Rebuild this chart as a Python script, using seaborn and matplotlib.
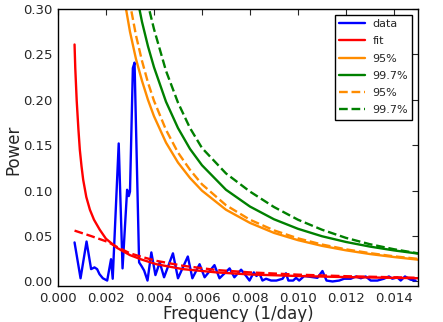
import numpy as np
import pandas as pd
import matplotlib
matplotlib.use("Agg")
import matplotlib.pyplot as plt
import seaborn as sns

# ---- data ----
data_freq = [0.00069, 0.00094, 0.00119, 0.00138, 0.00152, 0.00163, 0.00173, 0.00187,
             0.00205, 0.00221, 0.00228, 0.00253, 0.00269, 0.00288, 0.00295, 0.00300,
             0.00312, 0.00319, 0.00338, 0.00348, 0.00359, 0.00373, 0.00389, 0.00406,
             0.00424, 0.00442, 0.00479, 0.00500, 0.00541, 0.00560, 0.00590, 0.00611,
             0.00652, 0.00673, 0.00715, 0.00735, 0.00763, 0.00784, 0.00798, 0.00816,
             0.00827, 0.00839, 0.00852, 0.00867, 0.00888, 0.00910, 0.00936, 0.00950,
             0.00960, 0.00980, 0.00992, 0.01005, 0.01026, 0.01054, 0.01081, 0.01102,
             0.01119, 0.01144, 0.01172, 0.01192, 0.01220, 0.01241, 0.01262, 0.01282,
             0.01303, 0.01331, 0.01358, 0.01379, 0.01393, 0.01414, 0.01428, 0.01446,
             0.01469, 0.01490]
data_power = [0.043, 0.0035, 0.044, 0.0136, 0.0155, 0.0136, 0.008, 0.0035,
              0.001, 0.0245, 0.003, 0.152, 0.0144, 0.101, 0.094, 0.099,
              0.235, 0.241, 0.021, 0.017, 0.012, 0.001, 0.032, 0.007,
              0.021, 0.0046, 0.031, 0.0035, 0.0275, 0.0035, 0.019, 0.0046,
              0.018, 0.0035, 0.0144, 0.0046, 0.013, 0.006, 0.001, 0.010,
              0.006, 0.009, 0.001, 0.003, 0.001, 0.001, 0.003, 0.009,
              0.001, 0.001, 0.004, 0.001, 0.006, 0.005, 0.004, 0.0115,
              0.001, 0.0, 0.001, 0.003, 0.003, 0.0055, 0.0035, 0.0055,
              0.001, 0.001, 0.003, 0.0055, 0.003, 0.0045, 0.001, 0.0055,
              0.002, 0.001]

fit_freq = [0.00069, 0.00072, 0.00078, 0.00085, 0.00091, 0.00098, 0.00105, 0.00118,
            0.00133, 0.00150, 0.00174, 0.00200, 0.00246, 0.00300, 0.00350, 0.00410,
            0.00520, 0.00660, 0.00800, 0.01000, 0.01200, 0.01500]
fit_power = [0.261, 0.235, 0.199, 0.168, 0.145, 0.127, 0.112, 0.093,
             0.079, 0.068, 0.057, 0.047, 0.037, 0.029, 0.024, 0.019,
             0.0136, 0.0100, 0.0077, 0.0060, 0.0048, 0.0036]

fit2_freq = [0.00069, 0.00138, 0.00208, 0.00246, 0.00300, 0.00350, 0.00410, 0.00520,
             0.00660, 0.00800, 0.01000, 0.01200, 0.01500]
fit2_power = [0.056, 0.050, 0.0435, 0.038, 0.031, 0.027, 0.0227, 0.0173,
              0.0126, 0.0100, 0.0075, 0.0058, 0.0040]

conf_freq = [0.0025, 0.00275, 0.003, 0.00325, 0.0035, 0.00375, 0.004, 0.0045, 0.005,
             0.0055, 0.006, 0.007, 0.008, 0.009, 0.010, 0.011, 0.012, 0.013, 0.014, 0.015]
c95 = [0.362, 0.313, 0.275, 0.245, 0.221, 0.200, 0.182, 0.153, 0.131,
       0.114, 0.100, 0.0790, 0.0645, 0.0535, 0.0455, 0.0392, 0.0343, 0.0302, 0.0269, 0.0240]
c997 = [0.48, 0.411, 0.360, 0.319, 0.286, 0.259, 0.236, 0.198, 0.169,
        0.146, 0.128, 0.101, 0.0825, 0.0685, 0.0580, 0.0498, 0.0435, 0.0384, 0.0342, 0.0307]
c95b = [0.407, 0.351, 0.306, 0.271, 0.243, 0.219, 0.199, 0.167, 0.142,
        0.123, 0.107, 0.0840, 0.0680, 0.0563, 0.0475, 0.0407, 0.0354, 0.0312, 0.0277, 0.0249]
c997b = [0.50, 0.44, 0.40, 0.37, 0.34, 0.305, 0.278, 0.232, 0.197,
         0.169, 0.147, 0.119, 0.099, 0.082, 0.068, 0.057, 0.048, 0.041, 0.0355, 0.031]

xticks = [0.000, 0.002, 0.004, 0.006, 0.008, 0.010, 0.012, 0.014]
yticks = [0.00, 0.05, 0.10, 0.15, 0.20, 0.25, 0.30]

# ---- style ----
sns.set_style("white")
plt.rcParams.update({
    "font.family": ["DejaVu Sans"],
    "xtick.direction": "in", "ytick.direction": "in",
    "xtick.top": True, "ytick.right": True,
    "xtick.major.size": 4, "ytick.major.size": 4,
    "axes.edgecolor": "black", "axes.linewidth": 1.0,
})

fig = plt.figure(figsize=(4.43, 3.22), dpi=100)
ax = fig.add_axes([0.1309, 0.1118, 0.8126, 0.860])

lw = 1.7
sns.lineplot(x=data_freq, y=data_power, ax=ax, color="blue", lw=lw, label="data", sort=False)
sns.lineplot(x=fit_freq, y=fit_power, ax=ax, color="red", lw=lw, label="fit", sort=False)
sns.lineplot(x=conf_freq, y=c95, ax=ax, color="darkorange", lw=lw, label="95%", sort=False)
sns.lineplot(x=conf_freq, y=c997, ax=ax, color="green", lw=lw, label="99.7%", sort=False)
sns.lineplot(x=conf_freq, y=c95b, ax=ax, color="darkorange", lw=lw, ls="--", label="95%", sort=False)
sns.lineplot(x=conf_freq, y=c997b, ax=ax, color="green", lw=lw, ls="--", label="99.7%", sort=False)
sns.lineplot(x=fit2_freq, y=fit2_power, ax=ax, color="red", lw=lw, ls="--", sort=False)

ax.set_xlim(0, 0.015)
ax.set_ylim(-0.005, 0.30)
ax.set_xticks(xticks)
ax.set_xticklabels([f"{v:.3f}" for v in xticks], fontsize=9.5)
ax.set_yticks(yticks)
ax.set_yticklabels([f"{v:.2f}" for v in yticks], fontsize=9.5)
ax.tick_params(axis="both", pad=4)
ax.set_xlabel("Frequency (1/day)", fontsize=12)
ax.set_ylabel("Power", fontsize=12)
ax.xaxis.label.set_va("baseline")
ax.xaxis.set_label_coords(0.5, -0.120)
ax.yaxis.label.set_va("baseline")
ax.yaxis.set_label_coords(-0.110, 0.49)
for s in ax.spines.values():
    s.set_visible(True)
    s.set_color("black")

leg = ax.legend(loc="upper right", fontsize=8, fancybox=False, framealpha=1,
                edgecolor="black", handlelength=2.3, handletextpad=0.7,
                borderpad=0.4, labelspacing=0.65, borderaxespad=0.5)
leg.get_frame().set_linewidth(1.0)

fig.savefig("out.png", dpi=100, facecolor="white")
